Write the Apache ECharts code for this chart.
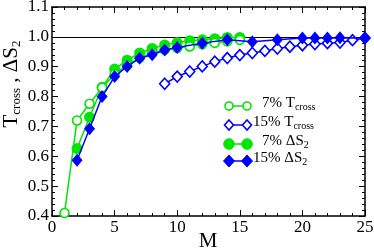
<!DOCTYPE html>
<html><head><meta charset="utf-8">
<script src="https://cdn.jsdelivr.net/npm/echarts@6/dist/echarts.min.js"></script>
<style>html,body{margin:0;padding:0;background:#fff}#c{width:374px;height:250px}</style>
</head><body><div id="c"></div>
<script>
// Data
const mTcross7 = [1,2,3,4,5,6,7,8,9,10,11,12,13,14,15];
const tcross7 = [0.41,0.72,0.776,0.83,0.875,0.905,0.93,0.945,0.957,0.963,0.968,0.975,0.98,0.985,0.99];
const mTcross15 = [9,10,11,12,13,14,15,16,17,18,19,20,21,22,23,24,25];
const tcross15 = [0.843,0.867,0.884,0.901,0.917,0.929,0.939,0.946,0.953,0.961,0.967,0.972,0.976,0.979,0.981,0.989,0.996];
const mDS7 = [2,3,4,5,6,7,8,9,10,11,12,13,14,15];
const ds7 = [0.626,0.731,0.831,0.892,0.922,0.946,0.961,0.973,0.981,0.987,0.99,0.994,0.998,0.998];
const mDS15 = [2,3,4,5,6,7,8,9,10,12,14,16,18,20,21,22,23,25];
const ds15 = [0.587,0.692,0.8,0.867,0.901,0.928,0.94,0.956,0.964,0.979,0.99,0.984,0.99,0.996,0.996,0.996,0.997,0.996];
const xTicks = [0,5,10,15,20,25];
const yTicks = [0.4,0.5,0.6,0.7,0.8,0.9,1.0,1.1];
const refLine = 1.0;
const xTitle = 'M';
const yTitle = '{t|T}{s|cross}{t| , ΔS}{s|2}';

const GREEN = '#00e600', BLUE = '#0000ff';
const FONT = 'Liberation Serif';
const zip = (a,b) => a.map((v,i)=>[v,b[i]]);

const chart = echarts.init(document.getElementById('c'));
const axisCommon = {
  axisLine:{show:true, onZero:false, lineStyle:{color:'#000', width:1.5}},
  axisTick:{show:true, inside:true, length:6, lineStyle:{color:'#000', width:1}},
  minorTick:{show:true, splitNumber:5, length:3, lineStyle:{color:'#000', width:1}},
  splitLine:{show:false}
};
const RICH_AXIS = {
  t:{fontFamily:FONT, fontSize:21, color:'#000', lineHeight:22, verticalAlign:'top'},
  s:{fontFamily:FONT, fontSize:13, color:'#000', lineHeight:14, verticalAlign:'bottom', padding:[14,0,0,0]}
};
const RICH_LEG = {
  t:{fontFamily:FONT, fontSize:15, color:'#000', lineHeight:16, verticalAlign:'top'},
  s:{fontFamily:FONT, fontSize:10, color:'#000', lineHeight:10, verticalAlign:'bottom', padding:[10,0,0,0]}
};

const legendRows = [
  {y:106, color:GREEN, symbol:'circle', hollow:true, text:'{t|7% T}{s|cross}', x:262},
  {y:125, color:BLUE, symbol:'diamond', hollow:true, text:'{t|15% T}{s|cross}', x:253},
  {y:144, color:GREEN, symbol:'circle', hollow:false, text:'{t|7% ΔS}{s|2}', x:262},
  {y:161, color:BLUE, symbol:'diamond', hollow:false, text:'{t|15% ΔS}{s|2}', x:253}
];
const graphics = [];
legendRows.forEach(r=>{
  graphics.push({type:'line', shape:{x1:229,y1:r.y,x2:247,y2:r.y}, style:{stroke:r.color, lineWidth:1.5}});
  [229,247].forEach(cx=>{
    const st = r.hollow ? {fill:'#fff', stroke:r.color, lineWidth:1.6} : {fill:r.color, stroke:r.color, lineWidth:1};
    if (r.symbol==='circle') {
      graphics.push({type:'circle', shape:{cx:cx, cy:r.y, r: r.hollow?4:5.3}, style:st, z:10});
    } else {
      const w = r.hollow?4.5:5.5, h = r.hollow?5:6;
      graphics.push({type:'polygon', shape:{points:[[cx,r.y-h],[cx+w,r.y],[cx,r.y+h],[cx-w,r.y]]}, style:st, z:10});
    }
  });
  graphics.push({type:'text', x:r.x, y:r.y-10, style:{text:r.text, rich:RICH_LEG, fill:'#000'}, z:10});
});
// axis titles
graphics.push({type:'text', x:208, y:241, style:{text:xTitle, font:'21px "Liberation Serif"', fill:'#000', align:'center', verticalAlign:'middle'}, z:10});
graphics.push({type:'text', x:12, y:84, rotation:Math.PI/2, style:{text:yTitle, rich:RICH_AXIS, fill:'#000', align:'center', verticalAlign:'middle'}, z:10});

chart.setOption({
  animation:false,
  backgroundColor:'#fff',
  grid:{left:52, right:9, top:7, bottom:34, containLabel:false, outerBoundsMode:'none'},
  xAxis:[
    Object.assign({type:'value', min:0, max:25, interval:5, position:'bottom',
      axisLabel:{fontFamily:FONT, fontSize:17, color:'#000', margin:3}}, axisCommon),
    Object.assign({type:'value', min:0, max:25, interval:5, position:'top', axisLabel:{show:false}}, axisCommon)
  ],
  yAxis:[
    Object.assign({type:'value', min:0.4, max:1.1, interval:0.1, position:'left',
      axisLabel:{fontFamily:FONT, fontSize:17, color:'#000', margin:3,
        formatter: v => v.toFixed(1)}}, axisCommon),
    Object.assign({type:'value', min:0.4, max:1.1, interval:0.1, position:'right', axisLabel:{show:false}}, axisCommon)
  ],
  series:[
    {name:'7% ΔS2', type:'line', data:zip(mDS7, ds7), symbol:'circle', symbolSize:11,
      lineStyle:{color:GREEN, width:1.5}, itemStyle:{color:GREEN}, z:2,
      markLine:{silent:true, symbol:'none', label:{show:false}, lineStyle:{color:'#000', width:1, type:'solid'},
        data:[{yAxis:refLine}], z:1}},
    {name:'7% Tcross', type:'line', data:zip(mTcross7, tcross7), symbol:'circle', symbolSize:9,
      lineStyle:{color:GREEN, width:1.5}, itemStyle:{color:'#fff', borderColor:GREEN, borderWidth:1.6}, z:3},
    {name:'15% Tcross', type:'line', data:zip(mTcross15, tcross15), symbol:'diamond', symbolSize:[10,11],
      lineStyle:{color:BLUE, width:1.5}, itemStyle:{color:'#fff', borderColor:BLUE, borderWidth:1.6}, z:4},
    {name:'15% ΔS2', type:'line', data:zip(mDS15, ds15), symbol:'diamond', symbolSize:[11,13],
      lineStyle:{color:BLUE, width:1.5}, itemStyle:{color:BLUE}, z:5}
  ],
  graphic: graphics
});
</script></body></html>
